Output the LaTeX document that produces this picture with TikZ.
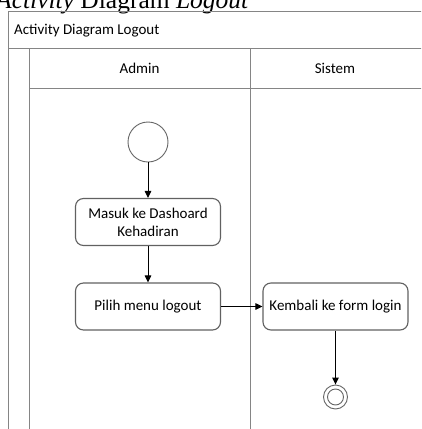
\documentclass[tikz,border=0pt]{standalone}
\usepackage{fontspec}
\setmainfont{Carlito}
\newfontfamily\capfont{Liberation Serif}
\usetikzlibrary{arrows.meta}
\begin{document}
\begin{tikzpicture}[x=1pt,y=1pt,
  lane/.style={draw=black!48, line width=1.3pt},
  act/.style={draw=black!62, line width=1.1pt, rounded corners=8pt,
    minimum width=145pt, minimum height=47pt, align=center,
    font=\fontsize{15}{18}\selectfont, inner sep=2pt},
  flow/.style={draw=black, line width=1pt, -{Triangle[length=7pt,width=6.5pt]}},
  lbl/.style={font=\fontsize{15}{18}\selectfont, inner sep=0pt},
  state/.style={circle, draw=black!60, line width=0.9pt, inner sep=0pt},
]
\useasboundingbox (0,0) rectangle (421,-429);
\clip (0,0) rectangle (421,-429);
\fill[white] (0,0) rectangle (421,-429);

% figure caption above the swimlane frame
\node[anchor=base west, inner sep=0pt, font=\capfont\fontsize{25.5}{28}\selectfont]
  (caption) at (-4,-8) {\textit{Activity} Diagram \textit{Logout}};

% pool frame and lanes
\draw[lane] (8.5,-440) -- (8.5,-11.5) -- (430,-11.5);
\draw[lane] (8.5,-48.5) -- (430,-48.5);
\draw[lane] (29.5,-48.5) -- (29.5,-440);
\draw[lane] (29.5,-88.5) -- (430,-88.5);
\draw[lane] (250.5,-48.5) -- (250.5,-440);

\node[lbl, anchor=base west] (pool) at (14,-34) {Activity Diagram Logout};
\node[lbl] (admin) at (139.5,-68) {Admin};
\node[lbl] (sistem) at (335,-68) {Sistem};

% activities
\node[state, minimum size=40pt] (start) at (148,-142) {};
\node[act] (dash) at (148,-222) {Masuk ke Dashoard\\Kehadiran};
\node[act] (menu) at (148,-306.5) {Pilih menu logout};
\node[act] (back) at (335.5,-306.5) {Kembali ke form login};
\node[state, minimum size=24pt] (end) at (335.5,-397) {};
\node[state, minimum size=16pt] (endin) at (end) {};

% control flow
\draw[flow] (start) -- (dash);
\draw[flow] (dash) -- (menu);
\draw[flow] (menu) -- (back);
\draw[flow] (back) -- (end);
\end{tikzpicture}
\end{document}
